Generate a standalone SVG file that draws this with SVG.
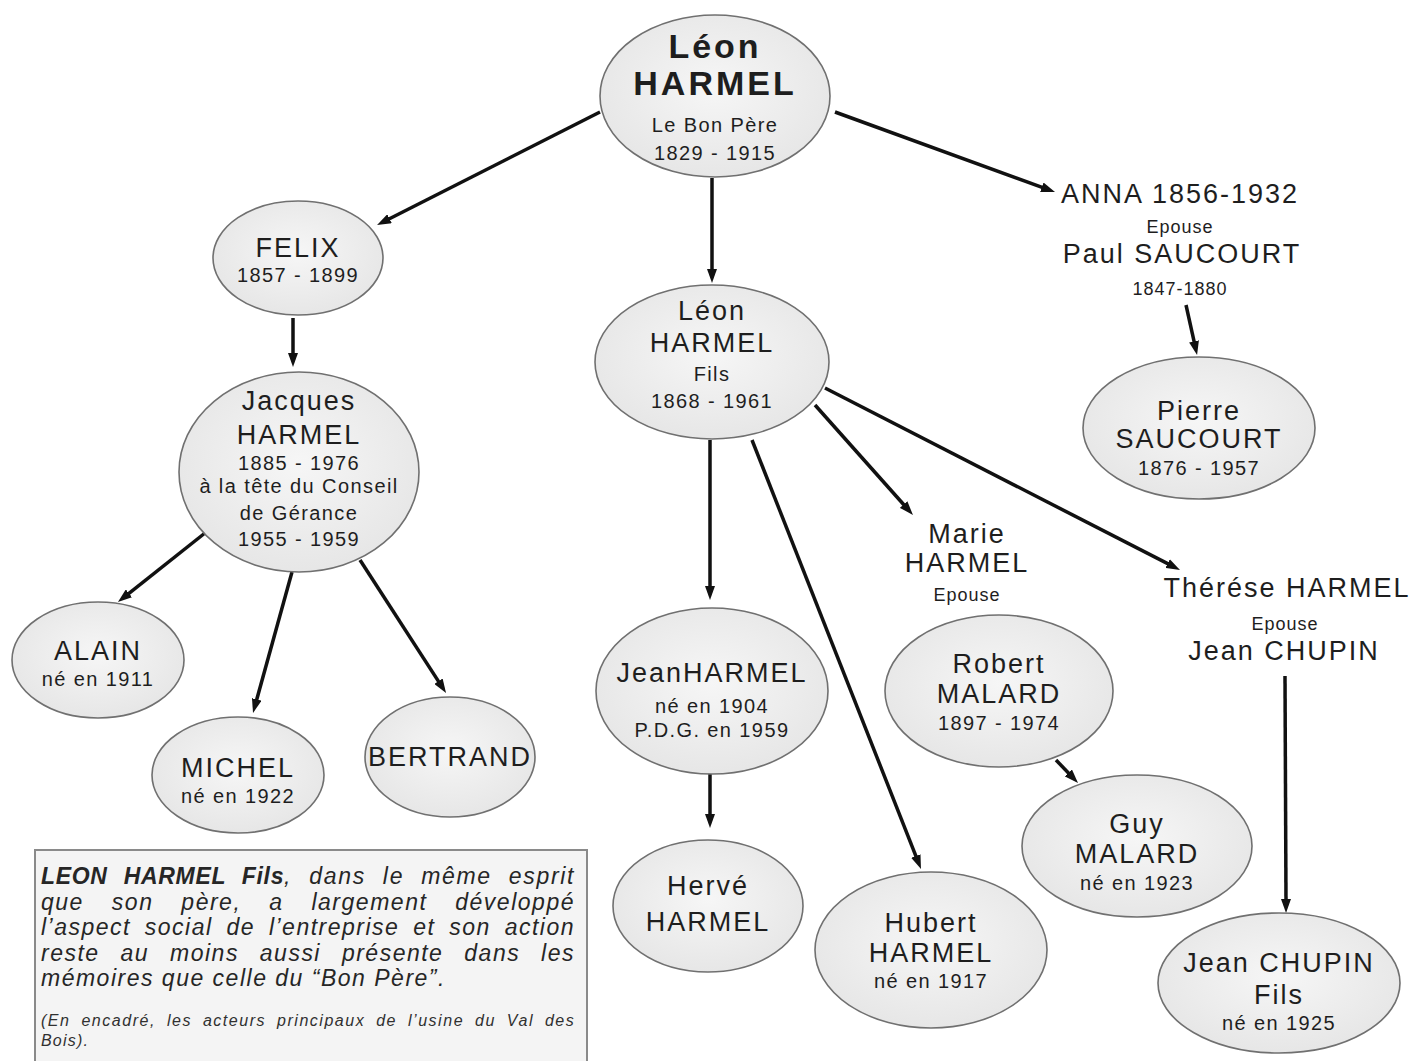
<svg xmlns="http://www.w3.org/2000/svg" width="1416" height="1061" viewBox="0 0 1416 1061">
<defs>
<radialGradient id="g" cx="50%" cy="45%" r="60%">
<stop offset="0" stop-color="#f6f6f6"/>
<stop offset="1" stop-color="#e5e5e5"/>
</radialGradient>
<marker id="ah" viewBox="0 0 14 10" refX="4" refY="5" markerWidth="14" markerHeight="10" markerUnits="userSpaceOnUse" orient="auto">
<path d="M0,0 L14,5 L0,10 Z" fill="#111"/>
</marker>
</defs>
<style>
.n ellipse{fill:url(#g);stroke:#707070;stroke-width:1.6}
text{font-family:"Liberation Sans",Arial,sans-serif;fill:#1e1e1e}
.bd{font-size:34px;font-weight:bold;letter-spacing:3px;text-anchor:middle}
.nm{font-size:27px;letter-spacing:2px;text-anchor:middle}
.sm{font-size:20px;letter-spacing:1.4px;text-anchor:middle}
.ep{font-size:18px;letter-spacing:1px;text-anchor:middle}
.c line{stroke:#111;stroke-width:3.5;marker-end:url(#ah)}
.bx{font-size:23px;font-style:italic;letter-spacing:1.5px;fill:#262626}
.bxs{font-size:16px;font-style:italic;letter-spacing:1.2px;fill:#303030}
</style>
<rect x="0" y="0" width="1416" height="1061" fill="#ffffff"/>

<g class="c" id="connectors">
<line x1="600" y1="112" x2="386" y2="220.5"/>
<line x1="712" y1="178" x2="712" y2="273"/>
<line x1="835" y1="112" x2="1045.6" y2="188.6"/>
<line x1="293" y1="318" x2="293" y2="357"/>
<line x1="205" y1="533" x2="125.8" y2="595.8"/>
<line x1="292" y1="572" x2="255.7" y2="703.3"/>
<line x1="360" y1="560" x2="440.6" y2="684.6"/>
<line x1="710" y1="440" x2="710" y2="590"/>
<line x1="710" y1="766" x2="710" y2="818"/>
<line x1="752" y1="440" x2="917.3" y2="859.7"/>
<line x1="815" y1="405" x2="906.3" y2="507.5"/>
<line x1="825" y1="388" x2="1171.1" y2="565.4"/>
<line x1="1186" y1="305" x2="1194.9" y2="345.2"/>
<line x1="1056" y1="760" x2="1071.1" y2="775.8"/>
<line x1="1285" y1="676" x2="1286" y2="903"/>
</g>

<g class="n" id="leon-pere">
<ellipse cx="715" cy="96" rx="115" ry="81"/>
<text class="bd" x="715" y="58">Léon</text>
<text class="bd" x="715" y="95">HARMEL</text>
<text class="sm" x="715" y="132">Le Bon Père</text>
<text class="sm" x="715" y="160">1829 - 1915</text>
</g>

<g class="n" id="felix">
<ellipse cx="298" cy="258" rx="85" ry="57"/>
<text class="nm" x="298" y="257">FELIX</text>
<text class="sm" x="298" y="282">1857 - 1899</text>
</g>

<g class="n" id="jacques">
<ellipse cx="299" cy="472" rx="120" ry="100"/>
<text class="nm" x="299" y="410">Jacques</text>
<text class="nm" x="299" y="444">HARMEL</text>
<text class="sm" x="299" y="470">1885 - 1976</text>
<text class="sm" x="299" y="493">à la tête du Conseil</text>
<text class="sm" x="299" y="520">de Gérance</text>
<text class="sm" x="299" y="546">1955 - 1959</text>
</g>

<g class="n" id="alain">
<ellipse cx="98" cy="660" rx="86" ry="58"/>
<text class="nm" x="98" y="660">ALAIN</text>
<text class="sm" x="98" y="686">né en 1911</text>
</g>

<g class="n" id="michel">
<ellipse cx="238" cy="775" rx="86" ry="58"/>
<text class="nm" x="238" y="777">MICHEL</text>
<text class="sm" x="238" y="803">né en 1922</text>
</g>

<g class="n" id="bertrand">
<ellipse cx="450" cy="757" rx="85" ry="60"/>
<text class="nm" x="450" y="766">BERTRAND</text>
</g>

<g class="n" id="leon-fils">
<ellipse cx="712" cy="362" rx="117" ry="77"/>
<text class="nm" x="712" y="320">Léon</text>
<text class="nm" x="712" y="352">HARMEL</text>
<text class="sm" x="712" y="381">Fils</text>
<text class="sm" x="712" y="408">1868 - 1961</text>
</g>

<g class="n" id="jean-harmel">
<ellipse cx="712" cy="691" rx="116" ry="83"/>
<text class="nm" x="712" y="682">JeanHARMEL</text>
<text class="sm" x="712" y="713">né en 1904</text>
<text class="sm" x="712" y="737">P.D.G. en 1959</text>
</g>

<g class="n" id="herve">
<ellipse cx="708" cy="906" rx="95" ry="66"/>
<text class="nm" x="708" y="895">Hervé</text>
<text class="nm" x="708" y="931">HARMEL</text>
</g>

<g class="n" id="hubert">
<ellipse cx="931" cy="950" rx="116" ry="78"/>
<text class="nm" x="931" y="932">Hubert</text>
<text class="nm" x="931" y="962">HARMEL</text>
<text class="sm" x="931" y="988">né en 1917</text>
</g>

<g id="marie">
<text class="nm" x="967" y="543">Marie</text>
<text class="nm" x="967" y="572">HARMEL</text>
<text class="ep" x="967" y="601">Epouse</text>
</g>

<g class="n" id="robert-malard">
<ellipse cx="999" cy="691" rx="114" ry="76"/>
<text class="nm" x="999" y="673">Robert</text>
<text class="nm" x="999" y="703">MALARD</text>
<text class="sm" x="999" y="730">1897 - 1974</text>
</g>

<g class="n" id="guy-malard">
<ellipse cx="1137" cy="846" rx="115" ry="71"/>
<text class="nm" x="1137" y="833">Guy</text>
<text class="nm" x="1137" y="863">MALARD</text>
<text class="sm" x="1137" y="890">né en 1923</text>
</g>

<g id="therese">
<text class="nm" x="1287" y="597">Thérése HARMEL</text>
<text class="ep" x="1285" y="630">Epouse</text>
<text class="nm" x="1284" y="660">Jean CHUPIN</text>
</g>

<g class="n" id="jean-chupin">
<ellipse cx="1279" cy="983" rx="121" ry="70"/>
<text class="nm" x="1279" y="972">Jean CHUPIN</text>
<text class="nm" x="1279" y="1004">Fils</text>
<text class="sm" x="1279" y="1030">né en 1925</text>
</g>

<g id="anna">
<text class="nm" x="1180" y="203">ANNA 1856-1932</text>
<text class="ep" x="1180" y="233">Epouse</text>
<text class="nm" x="1182" y="263">Paul SAUCOURT</text>
<text class="ep" x="1180" y="295">1847-1880</text>
</g>

<g class="n" id="pierre">
<ellipse cx="1199" cy="428" rx="116" ry="71"/>
<text class="nm" x="1199" y="420">Pierre</text>
<text class="nm" x="1199" y="448">SAUCOURT</text>
<text class="sm" x="1199" y="475">1876 - 1957</text>
</g>

<g id="encadre">
<rect x="35" y="850" width="552" height="220" fill="#f4f4f4" stroke="#8a8a8a" stroke-width="2"/>
<text class="bx" x="41" y="884" word-spacing="9" textLength="534" lengthAdjust="spacing"><tspan font-weight="bold" letter-spacing="0.5">LEON HARMEL Fils</tspan>, dans le même esprit</text>
<text class="bx" x="41" y="910" word-spacing="20" textLength="534" lengthAdjust="spacing">que son père, a largement développé</text>
<text class="bx" x="41" y="935" word-spacing="6" textLength="534" lengthAdjust="spacing">l’aspect social de l’entreprise et son action</text>
<text class="bx" x="41" y="961" word-spacing="13" textLength="534" lengthAdjust="spacing">reste au moins aussi présente dans les</text>
<text class="bx" x="41" y="986">mémoires que celle du “Bon Père”.</text>
<text class="bxs" x="41" y="1026" word-spacing="5" textLength="534" lengthAdjust="spacing">(En encadré, les acteurs principaux de l’usine du Val des</text>
<text class="bxs" x="41" y="1046">Bois).</text>
</g>
</svg>
